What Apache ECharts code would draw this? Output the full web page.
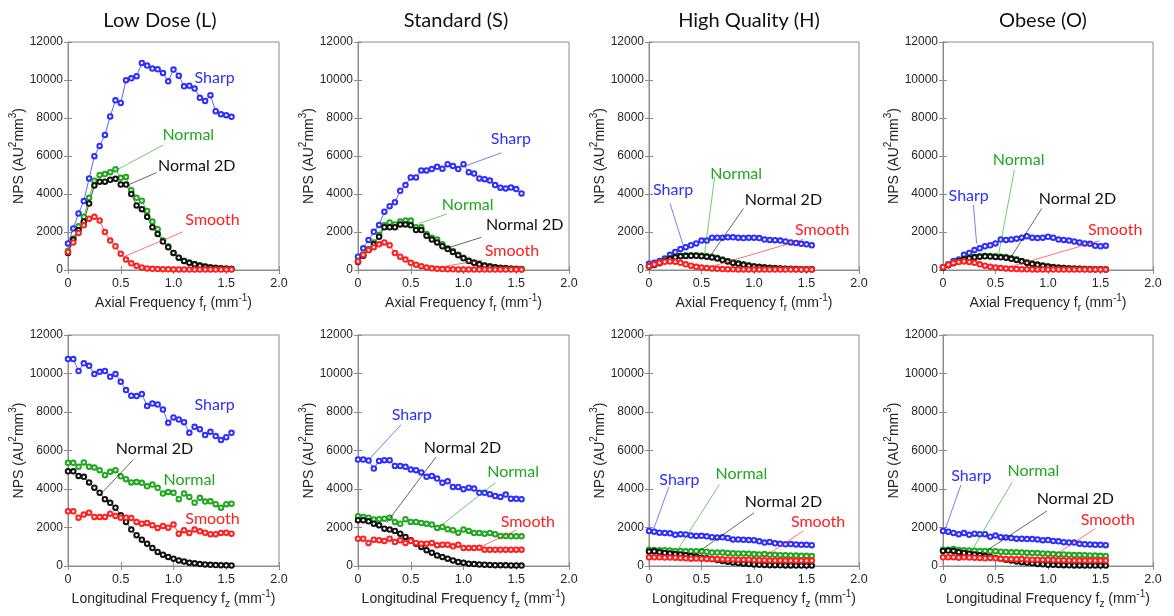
<!DOCTYPE html>
<html>
<head>
<meta charset="utf-8">
<title>NPS</title>
<script src="https://cdn.jsdelivr.net/npm/echarts@6/dist/echarts.min.js"></script>
<style>
html,body{margin:0;padding:0;background:#fff;}
#main{width:1174px;height:616px;}
</style>
</head>
<body>
<div id="main"></div>
<script>
// frequency samples (mm^-1)
var freq = [0,0.05,0.1,0.15,0.2,0.25,0.3,0.35,0.4,0.45,0.5,0.55,0.6,0.65,0.7,0.75,
            0.8,0.85,0.9,0.95,1.0,1.05,1.1,1.15,1.2,1.25,1.3,1.35,1.4,1.45,1.5,1.55];

var titles = ['Low Dose (L)', 'Standard (S)', 'High Quality (H)', 'Obese (O)'];
var kernels = ['Sharp', 'Normal', 'Normal 2D', 'Smooth'];
var xTicks = [0, 0.5, 1.0, 1.5, 2.0];
var yTicks = [0, 2000, 4000, 6000, 8000, 10000, 12000];

// axial NPS
var lowAxSharp  = [1400,2190,2980,3630,4820,5990,6530,7110,8080,8930,8790,9990,10090,10200,10900,10760,10600,10560,10370,9930,10550,10230,9670,9700,9550,9060,8900,9200,8360,8200,8150,8060];
var lowAxNormal = [1000,1650,2300,2800,3800,4700,5000,5050,5150,5300,4850,4900,4200,3800,3650,3100,2550,2150,1550,1250,900,650,480,400,300,250,200,150,120,100,80,70];
var lowAxN2D    = [900,1600,2100,2550,3500,4450,4650,4650,4750,4800,4500,4500,4000,3400,3200,2800,2250,1900,1500,1200,900,650,480,380,300,220,170,130,100,80,60,50];
var lowAxSmooth = [950,1450,1950,2350,2700,2800,2600,2000,1550,1250,850,550,350,220,130,80,60,50,40,35,30,28,26,25,24,23,22,21,20,20,20,20];

var stdAxSharp  = [700,1140,1580,2010,2370,3070,3360,3560,4170,4470,4870,4870,5240,5240,5310,5430,5330,5570,5480,5310,5570,5150,5080,4820,4780,4710,4470,4330,4290,4340,4260,4030];
var stdAxNormal = [450,800,1100,1450,1850,2350,2500,2400,2550,2600,2600,2250,2250,1900,1700,1600,1350,1150,1000,800,650,500,400,320,250,200,150,120,100,80,60,50];
var stdAxN2D    = [420,750,1050,1350,1750,2250,2250,2250,2400,2400,2350,2100,2100,1800,1600,1450,1250,1100,950,780,620,480,380,300,230,180,140,110,90,70,55,45];
var stdAxSmooth = [450,800,1050,1200,1350,1450,1300,900,700,550,380,280,200,130,90,70,50,40,35,30,28,26,25,24,23,22,21,20,20,20,20,20];

var hqAxSharp  = [330,380,480,600,800,950,1100,1200,1300,1400,1550,1550,1700,1700,1700,1720,1720,1700,1680,1700,1700,1680,1600,1580,1570,1550,1500,1450,1420,1380,1350,1300];
var hqAxNormal = [200,280,380,500,620,700,750,770,780,780,760,740,700,650,550,480,400,350,300,250,200,170,140,120,100,80,70,60,50,45,40,35];
var hqAxN2D    = [180,260,350,470,590,670,720,740,750,750,730,700,660,610,520,450,380,330,280,230,190,160,130,110,90,75,65,55,48,42,38,33];
var hqAxSmooth = [200,300,380,430,450,430,380,300,230,170,130,100,80,60,50,40,35,30,28,25,24,23,22,21,20,20,20,20,20,20,20,20];

var obAxSharp  = [150,300,480,550,800,900,1050,1150,1250,1300,1400,1600,1580,1600,1650,1700,1780,1700,1680,1700,1750,1700,1600,1580,1550,1500,1450,1400,1380,1280,1250,1280];
var obAxNormal = [150,280,380,500,600,650,700,730,750,740,720,700,680,620,560,480,400,340,290,240,190,160,130,110,90,75,65,55,48,42,38,35];
var obAxN2D    = [120,250,350,470,570,620,670,700,720,710,690,670,650,590,530,460,380,320,270,220,180,150,125,105,85,70,60,52,45,40,35,32];
var obAxSmooth = [150,280,370,420,450,420,380,300,230,170,130,100,80,60,50,40,35,30,28,25,24,23,22,21,20,20,20,20,20,20,20,20];

// longitudinal NPS
var lowLgSharp  = [10750,10750,10130,10530,10400,9970,10090,10130,9830,9970,9570,9140,8840,8830,8930,8310,8440,8390,8130,7440,7720,7610,7470,6920,7230,7110,6800,6970,6750,6540,6690,6920];
var lowLgNormal = [5360,5360,5150,5380,5150,5120,4980,4720,4890,4980,4660,4510,4340,4370,4320,4140,4230,4060,3760,3850,3800,3470,3760,3590,3290,3540,3350,3360,3210,3030,3210,3240];
var lowLgN2D    = [4920,4920,4680,4630,4340,4070,3810,3470,3280,3030,2640,2290,1890,1600,1370,1160,940,730,590,470,380,290,240,170,140,100,80,60,50,40,35,30];
var lowLgSmooth = [2840,2840,2510,2670,2770,2550,2550,2550,2720,2600,2510,2510,2500,2290,2200,2240,2120,1980,2080,1990,2150,1680,1860,1720,1890,1800,1730,1650,1650,1720,1730,1680];

var stdLgSharp  = [5530,5530,5480,5060,5460,5500,5500,5200,5200,5150,5010,4980,4860,4630,4680,4540,4320,4400,4110,4110,3990,4070,4020,3800,3800,3730,3640,3590,3710,3500,3490,3470];
var stdLgNormal = [2580,2550,2510,2410,2430,2460,2510,2290,2200,2430,2290,2290,2240,2200,2150,1980,2030,1910,1860,1730,1890,1820,1720,1720,1680,1720,1650,1560,1560,1540,1540,1540];
var stdLgN2D    = [2380,2380,2320,2200,2120,1940,1890,1820,1680,1510,1340,1160,990,820,690,550,470,380,290,210,170,120,100,80,65,55,45,40,35,30,28,25];
var stdLgSmooth = [1420,1420,1200,1370,1340,1300,1420,1250,1340,1200,1300,1200,1160,1160,1200,1080,1110,1110,1020,1110,940,940,940,950,850,850,850,850,850,850,850,850];

var hqLgSharp  = [1820,1780,1730,1720,1700,1620,1650,1640,1580,1560,1570,1540,1500,1480,1490,1450,1380,1380,1360,1350,1340,1280,1220,1250,1180,1150,1130,1140,1120,1100,1100,1080];
var hqLgNormal = [850,830,820,820,800,780,780,760,760,770,760,740,700,700,700,680,660,650,650,640,620,600,620,580,580,560,560,550,540,530,530,520];
var hqLgN2D    = [750,760,720,680,650,620,600,560,520,480,430,400,360,310,260,220,180,150,120,100,80,65,55,45,40,35,30,28,25,22,20,20];
var hqLgSmooth = [450,450,450,440,440,430,420,400,380,390,380,370,360,360,350,340,340,330,320,330,310,300,300,290,290,290,280,280,280,280,280,280];

var obLgSharp  = [1820,1780,1720,1650,1720,1620,1680,1650,1650,1520,1580,1500,1480,1450,1420,1420,1400,1400,1380,1340,1350,1300,1280,1240,1220,1220,1150,1130,1120,1100,1100,1080];
var obLgNormal = [850,850,880,830,820,800,790,780,780,760,770,740,730,710,720,700,690,680,670,650,640,620,600,600,580,570,570,560,550,540,530,520];
var obLgN2D    = [780,800,780,720,680,640,600,560,520,470,420,380,330,290,240,200,170,140,110,90,70,60,50,42,36,32,28,25,22,20,20,20];
var obLgSmooth = [450,450,460,430,450,440,430,420,400,420,400,380,370,360,350,360,340,330,330,320,320,310,300,300,290,290,280,280,280,280,280,280];

var panels = [
	[lowAxSharp, lowAxNormal, lowAxN2D, lowAxSmooth],
	[stdAxSharp, stdAxNormal, stdAxN2D, stdAxSmooth],
	[hqAxSharp, hqAxNormal, hqAxN2D, hqAxSmooth],
	[obAxSharp, obAxNormal, obAxN2D, obAxSmooth],
	[lowLgSharp, lowLgNormal, lowLgN2D, lowLgSmooth],
	[stdLgSharp, stdLgNormal, stdLgN2D, stdLgSmooth],
	[hqLgSharp, hqLgNormal, hqLgN2D, hqLgSmooth],
	[obLgSharp, obLgNormal, obLgN2D, obLgSmooth]
];

// label positions in data units: [label x, label y, leader from, leader to]
var notes = [
	[[1.39,10100,null],[1.14,7100,[[0.9,6570],[0.46,5260]]],[1.22,5480,[[0.84,5130],[0.58,4500]]],[1.37,2630,[[1.09,2010],[0.53,700]]]],
	[[1.45,6920,[[1.36,6170],[1.02,5480]]],[1.04,3420,[[0.84,2940],[0.58,2450]]],[1.58,2360,[[1.17,1720],[0.84,1140]]],[1.46,1020,[[1.18,525],[0.71,90]]]],
	[[0.23,4200,[[0.2,3500],[0.33,1230]]],[0.83,5080,[[0.625,4900],[0.53,880]]],[1.28,3680,[[0.9,3240],[0.59,790]]],[1.65,2100,[[1.47,1610],[0.59,175]]]],
	[[0.245,3900,[[0.29,3420],[0.32,1400]]],[0.72,5780,[[0.68,5260],[0.53,840]]],[1.28,3730,[[0.94,3240],[0.64,610]]],[1.64,2100,[[1.49,1540],[0.61,120]]]],
	[[1.39,8360,null],[1.15,4460,null],[0.82,6100,[[0.62,5530],[0.33,3850]]],[1.37,2430,null]],
	[[0.51,7870,[[0.41,7350],[0.11,5570]]],[1.47,4890,[[1.3,4320],[0.77,2030]]],[0.99,6140,[[0.74,5670],[0.27,2240]]],[1.61,2290,[[1.5,1860],[1.17,1020]]]],
	[[0.29,4460,[[0.19,4110],[0.04,1860]]],[0.88,4800,[[0.67,4230],[0.28,900]]],[1.28,3330,[[1.0,2760],[0.47,730]]],[1.61,2290,[[1.47,1820],[1.08,420]]]],
	[[0.27,4680,[[0.17,4200],[0.02,1890]]],[0.86,4940,[[0.66,4370],[0.28,850]]],[1.26,3470,[[0.99,2860],[0.43,850]]],[1.57,2380,[[1.45,1940],[1.04,470]]]]
];

var colors = ['#2e2eff', '#1fa81f', '#111111', '#ff2020'];
var colLeft = [68, 358, 649, 943];
var colWidth = [211, 211, 210, 210];
var rowTop = [42, 335];
var rowHeight = [228, 231];
var titleX = [155, 451, 744, 1038];

var axisGray = '#8c8c8c';
var nameRich = {
	a: {fontFamily: 'Liberation Sans', fontSize: 14, color: '#262626', lineHeight: 20},
	up: {fontFamily: 'Liberation Sans', fontSize: 10, color: '#262626', lineHeight: 10, verticalAlign: 'top'},
	dn: {fontFamily: 'Liberation Sans', fontSize: 10, color: '#262626', lineHeight: 10, verticalAlign: 'bottom'}
};

var option = {
	backgroundColor: '#fff',
	animation: false,
	title: [],
	grid: [],
	xAxis: [],
	yAxis: [],
	series: []
};

titles.forEach(function(t, i){
	option.title.push({
		text: t, left: titleX[i], top: 6, textAlign: 'center',
		textStyle: {fontFamily: 'Lato', fontSize: 20, fontWeight: 'normal', color: '#111'}
	});
});

for (var p = 0; p < 8; p++) {
	var row = p < 4 ? 0 : 1;
	var col = p % 4;
	option.grid.push({
		left: colLeft[col], top: rowTop[row], width: colWidth[col], height: rowHeight[row],
		show: true, borderColor: axisGray, borderWidth: 1, backgroundColor: '#fff'
	});
	var xName = row === 0
		? '{a|Axial Frequency f}{dn|r}{a| (mm}{up|-1}{a|)}'
		: '{a|Longitudinal Frequency f}{dn|z}{a| (mm}{up|-1}{a|)}';
	// bottom and top x axes
	option.xAxis.push({
		type: 'value', gridIndex: p, min: 0, max: 2, interval: 0.5, position: 'bottom',
		name: xName, nameLocation: 'middle', nameGap: 23,
		nameTextStyle: {rich: nameRich},
		axisLine: {show: true, lineStyle: {color: axisGray}},
		axisTick: {show: true, inside: true, length: 4, lineStyle: {color: axisGray}},
		axisLabel: {color: '#262626', fontFamily: 'Liberation Sans', fontSize: 12.5, margin: 7,
			formatter: function(v){ return v === 0 ? '0' : v.toFixed(1); }},
		splitLine: {show: false}
	});
	option.xAxis.push({
		type: 'value', gridIndex: p, min: 0, max: 2, interval: 0.5, position: 'top',
		axisLine: {show: true, lineStyle: {color: axisGray}},
		axisTick: {show: true, inside: true, length: 4, lineStyle: {color: axisGray}},
		axisLabel: {show: false}, splitLine: {show: false}
	});
	option.yAxis.push({
		type: 'value', gridIndex: p, min: 0, max: 12000, interval: 2000, position: 'left',
		name: '{a|NPS (AU}{up|2}{a|mm}{up|3}{a|)}', nameLocation: 'middle', nameGap: 38, nameRotate: 90,
		nameTextStyle: {rich: nameRich},
		axisLine: {show: true, lineStyle: {color: axisGray}},
		axisTick: {show: true, inside: true, length: 4, lineStyle: {color: axisGray}},
		axisLabel: {color: '#262626', fontFamily: 'Liberation Sans', fontSize: 12, margin: 5,
			formatter: function(v){ return String(v); }},
		splitLine: {show: false}
	});
	option.yAxis.push({
		type: 'value', gridIndex: p, min: 0, max: 12000, interval: 2000, position: 'right',
		axisLine: {show: true, lineStyle: {color: axisGray}},
		axisTick: {show: true, inside: true, length: 4, lineStyle: {color: axisGray}},
		axisLabel: {show: false}, splitLine: {show: false}
	});

	for (var k = 0; k < 4; k++) {
		var vals = panels[p][k];
		var note = notes[p][k];
		var s = {
			name: kernels[k], type: 'line', xAxisIndex: p * 2, yAxisIndex: p * 2,
			data: freq.map(function(f, i){ return [f, vals[i]]; }),
			symbol: 'emptyCircle', symbolSize: 4.5, showAllSymbol: true,
			lineStyle: {width: 1, color: colors[k], opacity: 0.75},
			itemStyle: {color: colors[k], borderWidth: 1},
			emphasis: {disabled: true},
			markPoint: {
				silent: true, symbol: 'circle', symbolSize: 1,
				itemStyle: {color: 'rgba(0,0,0,0)'},
				label: {show: true, position: 'inside', formatter: kernels[k], color: colors[k],
					fontFamily: 'Lato', fontSize: 16},
				data: [{coord: [note[0], note[1]]}]
			}
		};
		if (note[2]) {
			s.markLine = {
				silent: true, symbol: ['none', 'none'],
				lineStyle: {color: colors[k], width: 0.8, type: 'solid', opacity: 0.8},
				label: {show: false},
				data: [[{coord: note[2][0]}, {coord: note[2][1]}]]
			};
		}
		option.series.push(s);
	}
}

var chart = echarts.init(document.getElementById('main'));
chart.setOption(option);
</script>
</body>
</html>
